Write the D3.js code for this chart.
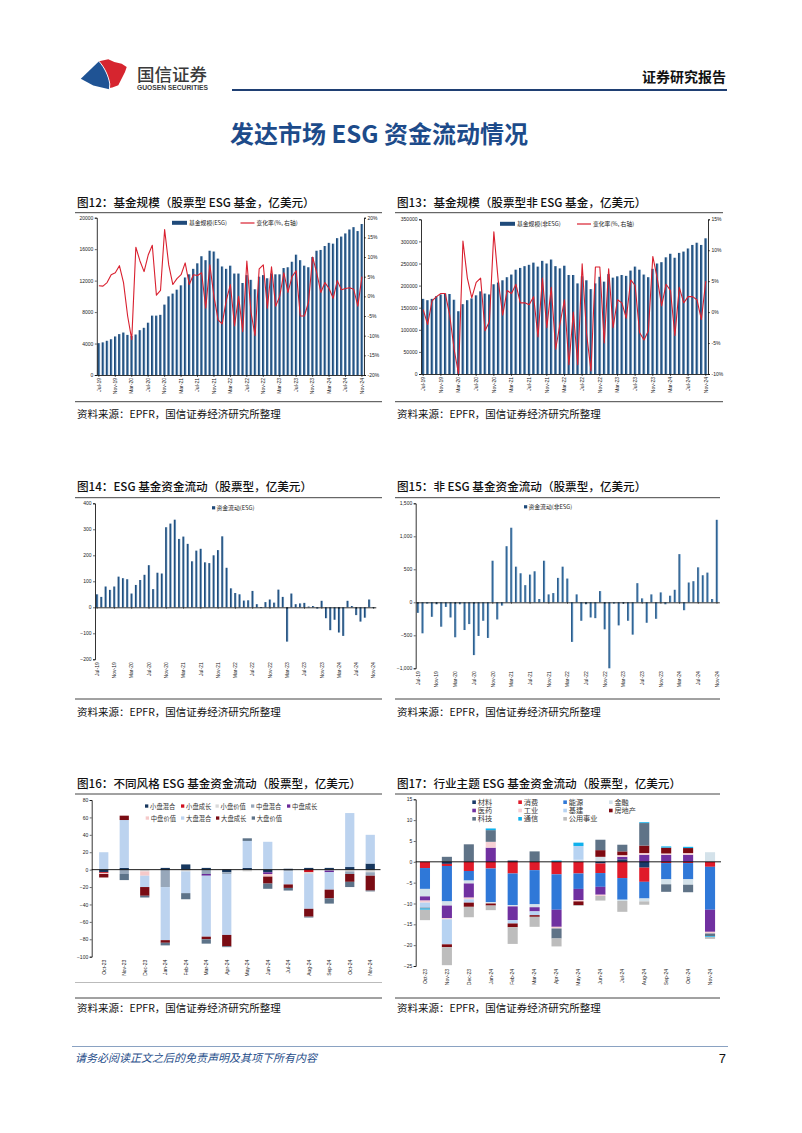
<!DOCTYPE html>
<html><head><meta charset="utf-8">
<script src="https://cdn.jsdelivr.net/npm/d3@7"></script>
<style>
body{margin:0;background:#fff;}
</style></head><body>
<svg id="page" width="802" height="1133" style="display:block;background:#fff"></svg>
<script>
// ---------------- DATA ----------------
const months = ("Jul-19 Aug-19 Sep-19 Oct-19 Nov-19 Dec-19 " +
 "Jan-20 Feb-20 Mar-20 Apr-20 May-20 Jun-20 Jul-20 Aug-20 Sep-20 Oct-20 Nov-20 Dec-20 " +
 "Jan-21 Feb-21 Mar-21 Apr-21 May-21 Jun-21 Jul-21 Aug-21 Sep-21 Oct-21 Nov-21 Dec-21 " +
 "Jan-22 Feb-22 Mar-22 Apr-22 May-22 Jun-22 Jul-22 Aug-22 Sep-22 Oct-22 Nov-22 Dec-22 " +
 "Jan-23 Feb-23 Mar-23 Apr-23 May-23 Jun-23 Jul-23 Aug-23 Sep-23 Oct-23 Nov-23 Dec-23 " +
 "Jan-24 Feb-24 Mar-24 Apr-24 May-24 Jun-24 Jul-24 Aug-24 Sep-24 Oct-24 Nov-24").split(" ");
const monthTicks = ["Jul-19","Nov-19","Mar-20","Jul-20","Nov-20","Mar-21","Jul-21","Nov-21","Mar-22","Jul-22","Nov-22","Mar-23","Jul-23","Nov-23","Mar-24","Jul-24","Nov-24"];

// Fig 12: ESG fund size (100m USD) and change rate (%)
const esgSize = [4050,4150,4350,4550,4900,5200,5400,5100,4950,5150,
 5700,6000,6650,7550,7550,7650,8950,10000,10350,10850,
 11400,12400,12800,13500,14200,15100,14600,15800,15700,14800,
 13800,13500,13900,12900,12900,11700,12700,12100,10900,12500,
 12700,12300,12900,12800,12800,13600,13700,14400,15300,14600,
 13900,13700,15000,15800,15900,16400,16800,16700,17400,17600,
 18000,18500,18800,18300,19200];
const esgChg = [2.7,2.6,3.5,5.5,6,7.8,3.5,-5,-11,12.5,
 9,6.3,10.5,13,0.3,1.5,17,8,3,4.5,
 5.5,8.5,3,5.5,5.3,6,-3,8,0,-6,
 -7,-1,3,-7.5,0,-9,9,-4,-10,7,
 8,-3,7.5,-2.5,0,6,1,5,6.5,-5,
 -5,-1.5,10,6,1,3.5,2,-0.5,4,1.7,
 2,2.2,1.8,-2.5,5];
const esgSizeTicks = [0,4000,8000,12000,16000,20000];
const esgChgTicks = [-20,-15,-10,-5,0,5,10,15,20];

// Fig 13: non-ESG fund size and change rate
const nonSize = [170000,167000,170000,176000,180000,182000,181000,168000,142000,158000,
 167000,171000,178000,187000,182000,180000,203000,207000,212000,219000,
 225000,236000,240000,244000,247000,252000,243000,256000,250000,259000,
 244000,239000,245000,224000,224000,205000,221000,212000,192000,205000,
 220000,209000,226000,218000,221000,224000,222000,234000,243000,236000,
 225000,219000,238000,250000,253000,264000,272000,263000,274000,277000,
 284000,292000,297000,292000,307000];
const nonChg = [0.4,-2,1.8,2.5,3,3,-0.5,-6,-10,11.5,
 5.5,2.3,4.8,5.5,-3,-1.5,13,5,-0.5,3.5,
 3,4.5,1.5,1.5,1.2,2.5,-4,5.5,-2.5,4,
 -6,-1.8,2,-8.5,0,-8.5,7.8,-3.5,-9.5,7.3,
 7.3,-5,7,-2.5,2,1.5,-1,5.2,4.3,-3.3,
 -4.5,-3,9,5.5,1,4.5,3.5,-3.8,4,1.5,
 2.5,2.5,2,-1.2,5];
const nonSizeTicks = [0,50000,100000,150000,200000,250000,300000,350000];
const nonChgTicks = [-10,-5,0,5,10,15];

// Fig 14: ESG fund flows
const esgFlow = [50,40,80,67,80,118,112,108,53,86,
 105,125,162,70,133,130,308,322,337,263,
 272,244,177,218,225,173,170,200,220,273,
 152,73,55,50,26,27,63,12,-3,20,
 30,18,68,40,-132,53,12,15,17,3,
 5,-5,25,-42,-88,-48,-97,-110,25,5,
 -30,-55,-40,30,-3];
const esgFlowTicks = [-200,-100,0,100,200,300,400];

// Fig 15: non-ESG fund flows
const nonFlow = [-160,-470,-20,-220,-30,-370,-70,-230,-530,-30,
 -420,-330,-800,-510,-280,-540,630,-260,-50,850,
 1130,540,440,260,420,470,50,630,120,140,
 370,540,360,-600,120,-280,-30,-230,-240,170,
 -410,-1000,-20,-350,-20,-280,-490,290,60,-310,
 120,-250,150,-30,100,190,730,-120,300,320,
 530,410,450,50,1250];
const nonFlowTicks = [-1000,-500,0,500,1000,1500];

// Fig 16: flows by style
const recentMonths = ["Oct-23","Nov-23","Dec-23","Jan-24","Feb-24","Mar-24","Apr-24","May-24","Jun-24","Jul-24","Aug-24","Sep-24","Oct-24","Nov-24"];
const styleNames = ["小盘混合","小盘成长","小盘价值","中盘混合","中盘成长","中盘价值","大盘混合","大盘成长","大盘价值"];
const smallBlend  = [-3,2,0,2,6,2,-3,2,-3,1,2,2,3,7];
const smallGrowth = [-1,0,0,0,0,0,0,0,0,0,-3,0,0,0];
const smallValue  = [0,0,-2,0,-2,0,0,-2,0,0,-2,-1,-2,-3];
const midBlend    = [0,-5,0,-20,0,-5,-2,0,0,-2,0,0,-3,-4];
const midGrowth   = [0,0,0,0,0,-2,0,0,-2,0,0,-2,0,0];
const midValue    = [-1,0,-5,0,0,0,0,0,-3,0,0,0,0,0];
const largeBlend  = [20,55,-13,-61,-25,-70,-70,31,32,-15,-40,-20,62,33];
const largeGrowth = [-4,5,-10,-3,0,-3,-13,0,-8,-4,-9,-10,-9,-17];
const largeValue  = [0,-7,-2,-3,-7,-5,-1,3,-6,-3,-1,-6,-6,-1];
const styleTicks = [-100,-80,-60,-40,-20,0,20,40,60,80];

// Fig 17: flows by sector theme
const sectorNames = ["材料","消费","能源","金融","医药","工业","基建","房地产","科技","通信","公用事业"];
const materials = [0,-0.5,0,0,0.3,0,0,0,-0.4,0.6,-1.4,0,0,0];
const consumer  = [-1.5,-0.5,-2.2,-1.6,-2.8,-2,-3,-2.8,-2.3,-3.9,-3.4,-0.3,-0.3,-1.2];
const energy    = [-5,-8.5,-2.3,-8.1,-7.6,-8.2,-8.5,-3.7,-3.3,-5.2,-4,-3.9,-3.9,-10.3];
const finance   = [-1.8,-1,-0.7,-0.3,-0.3,-0.7,0,0.5,1.2,-0.3,-0.7,-1.2,-1.3,2.3];
const health    = [-1,-3,-3.4,3.4,-3.3,-1,-4.1,-2.7,-1.9,0.6,1.7,1.7,1.7,-5.3];
const industry  = [-0.5,-0.3,-0.4,1.4,0,0,-0.4,-0.3,-0.3,0.4,0.4,0.3,0.4,-0.4];
const infra     = [-1.2,-6,-0.8,0,-0.8,-0.9,0,3.3,0,0,0,0,0,0];
const realty    = [0,-0.7,-1,-0.5,-0.9,-0.4,0,-0.9,1.6,0.9,1.8,1.4,1.2,0];
const tech      = [-0.2,1.2,4.2,2.8,0,2.5,-2.4,0,2.5,1.6,5.4,-1.8,-1.8,-0.6];
const telecom   = [-0.3,0,0,0.4,0,0,0.3,0.8,0,0,0.2,0.3,0.3,-0.2];
const utilities = [-2.5,-4.3,-2.5,-1.1,-4,-2.4,-1.9,-0.2,-1.1,-2.6,-0.8,0,0,-0.5];
const sectorTicks = [-25,-20,-15,-10,-5,0,5,10,15];

// ---------------- DRAWING ----------------
const CJK = '"Noto Sans CJK SC","Noto Sans",sans-serif';
const LAT = '"Liberation Sans",Arial,sans-serif';
const svg = d3.select("#page");
const defs = svg.append("defs");
function grad(id, stops){
  const g = defs.append("linearGradient").attr("id",id).attr("x1","0").attr("x2","1").attr("y1","0").attr("y2","0");
  stops.forEach(s=>g.append("stop").attr("offset",s[0]).attr("stop-color",s[1]));
}
grad("barA",[[0,"#17406f"],[0.5,"#285988"],[1,"#9dbfdf"]]);
grad("barB",[[0,"#21507f"],[0.5,"#3a6f9f"],[1,"#a3c4e2"]]);

function txt(g,x,y,s,o={}){
  return g.append("text").attr("x",x).attr("y",y).text(s)
    .attr("font-family",o.ff||CJK).attr("font-size",o.fs||11)
    .attr("font-weight",o.fw||"normal").attr("fill",o.fill||"#111")
    .attr("text-anchor",o.anchor||"start").attr("font-style",o.style||"normal");
}
function hline(x1,x2,y,color,w){
  svg.append("line").attr("x1",x1).attr("x2",x2).attr("y1",y).attr("y2",y)
    .attr("stroke",color).attr("stroke-width",w);
}
function styleAxis(g){
  g.selectAll("text").attr("font-size",5).attr("font-family",LAT).attr("fill","#222");
  g.selectAll("path.domain").attr("stroke","#000").attr("stroke-width",0.8);
  g.selectAll(".tick line").attr("stroke","#000").attr("stroke-width",0.6);
}
function rotLabels(g){
  g.selectAll(".tick text").attr("transform","rotate(-90)").attr("text-anchor","end")
    .attr("x",-3).attr("y",0).attr("dy","0.35em");
}

// ---- header ----
const logo = svg.append("g");
logo.append("path").attr("d","M99,61.3 L108.3,59.3 L114.3,62 L121.7,63.7 L126.7,67 L125,72 L118.3,85.3 L112.3,87.5 L109.6,88 L109.8,84 C108.6,76 104.5,67.5 99,61.3 Z")
  .attr("fill","#d6252f");
logo.append("path").attr("d","M80.8,78.7 L99,61.3 C104.5,67.5 108.6,76 109.8,84 L109.2,89.2 L93.3,85.6 Z")
  .attr("fill","#1f5394");
logo.append("path").attr("d","M99,61.3 C104.5,67.5 108.6,76 109.8,84 L109.4,89").attr("fill","none").attr("stroke","#fff").attr("stroke-width",0.9);
txt(svg,137,80.5,"国信证券",{fs:17.5,fill:"#3a3a3a",fw:500});
txt(svg,137,89.8,"GUOSEN SECURITIES",{fs:6.4,ff:LAT,fw:"bold",fill:"#3a3a3a"}).attr("textLength",71).attr("lengthAdjust","spacingAndGlyphs");
txt(svg,726,82,"证券研究报告",{fs:14,fw:"bold",anchor:"end",fill:"#111"});
hline(232,727,90,"#1f3f73",2);
txt(svg,379,143,"发达市场 ESG 资金流动情况",{fs:24,fw:"bold",anchor:"middle",fill:"#1d4b8a"});

// ---- chart frames ----
function frame(x1,x2,title,yTitle,yTop,yBot,ySrc){
  txt(svg,x1+2,yTitle,title,{fs:11.6,fw:500,fill:"#111"});
  hline(x1,x2,yTop,"#444",1);
  hline(x1,x2,yBot,"#444",1);
  txt(svg,x1+2,ySrc,"资料来源：EPFR，国信证券经济研究所整理",{fs:10.5,fill:"#111"});
}
frame(75,382,"图12：基金规模（股票型 ESG 基金，亿美元）",207,212.7,401.7,418);
frame(395,723,"图13：基金规模（股票型非 ESG 基金，亿美元）",207,212.7,401.7,418);
frame(75,382,"图14：ESG 基金资金流动（股票型，亿美元）",491,497.7,699,715.5);
frame(395,720,"图15：非 ESG 基金资金流动（股票型，亿美元）",491,497.7,699,715.5);
frame(75,382,"图16：不同风格 ESG 基金资金流动（股票型，亿美元）",787.5,794,998,1011.5);
frame(395,720,"图17：行业主题 ESG 基金资金流动（股票型，亿美元）",787.5,794,998,1011.5);
hline(75,382,982.5,"#aaa",0.8);

// ---- dual (bar + line) chart ----
function dualChart(o){
  const g = svg.append("g");
  const x = d3.scaleBand().domain(months).range([o.x0,o.x1]).paddingInner(o.pad).paddingOuter(o.pad/2);
  const yL = d3.scaleLinear().domain(o.yL).range([o.yb,o.yt]);
  const yR = d3.scaleLinear().domain(o.yR).range([o.yb,o.yt]);
  g.selectAll("rect").data(o.bars).join("rect")
    .attr("x",(d,i)=>x(months[i])).attr("width",x.bandwidth())
    .attr("y",d=>yL(d)).attr("height",d=>yL(o.yL[0])-yL(d)).attr("fill","url(#barA)");
  const line = d3.line().x((d,i)=>x(months[i])+x.bandwidth()/2).y(d=>yR(d));
  g.append("path").datum(o.line).attr("d",line).attr("fill","none")
    .attr("stroke","#d9202f").attr("stroke-width",1.1).attr("stroke-linejoin","round");
  const al = g.append("g").attr("transform",`translate(${o.x0},0)`)
    .call(d3.axisLeft(yL).tickValues(o.yLTicks).tickSize(2).tickPadding(1.5).tickFormat(d3.format("d")));
  styleAxis(al);
  const ar = g.append("g").attr("transform",`translate(${o.x1},0)`)
    .call(d3.axisRight(yR).tickValues(o.yRTicks).tickSize(2).tickPadding(1.5).tickFormat(d=>d+"%"));
  styleAxis(ar);
  const ab = g.append("g").attr("transform",`translate(0,${o.yb})`)
    .call(d3.axisBottom(x).tickValues(monthTicks).tickSize(2).tickSizeOuter(0));
  styleAxis(ab); rotLabels(ab);
  // legend
  g.append("rect").attr("x",o.lx).attr("y",o.ly-2.2).attr("width",15).attr("height",4).attr("fill","#1f4a7a");
  txt(g,o.lx+17,o.ly+2,o.lt1,{fs:5.8,fill:"#222"});
  g.append("line").attr("x1",o.lx2).attr("x2",o.lx2+14).attr("y1",o.ly).attr("y2",o.ly).attr("stroke","#d9202f").attr("stroke-width",1.2);
  txt(g,o.lx2+16,o.ly+2,"变化率(%, 右轴)",{fs:5.8,fill:"#222"});
}
dualChart({x0:96.8,x1:364,yt:217.7,yb:375,pad:0.37,yL:[0,20000],yR:[-20,20],
  yLTicks:esgSizeTicks,yRTicks:esgChgTicks,bars:esgSize,line:esgChg,
  lx:172,lx2:240.5,ly:223,lt1:"基金规模(ESG)"});
dualChart({x0:421,x1:708,yt:219.3,yb:374,pad:0.39,yL:[0,350000],yR:[-10,15],
  yLTicks:nonSizeTicks,yRTicks:nonChgTicks,bars:nonSize,line:nonChg,
  lx:500,lx2:577,ly:224,lt1:"基金规模(非ESG)"});

// ---- flow chart ----
function flowChart(o){
  const g = svg.append("g");
  const x = d3.scaleBand().domain(months).range([o.x0,o.x1]).paddingInner(o.pad).paddingOuter(o.pad/2);
  const y = d3.scaleLinear().domain(o.yd).range([o.yb,o.yt]);
  g.selectAll("rect").data(o.vals).join("rect")
    .attr("x",(d,i)=>x(months[i])).attr("width",x.bandwidth())
    .attr("y",d=>y(Math.max(0,d))).attr("height",d=>Math.abs(y(d)-y(0))).attr("fill",o.fill);
  const al = g.append("g").attr("transform",`translate(${o.x0},0)`)
    .call(d3.axisLeft(y).tickValues(o.ticks).tickSize(2).tickPadding(1.5));
  styleAxis(al);
  const az = g.append("g").attr("transform",`translate(0,${y(0)})`)
    .call(d3.axisBottom(x).tickValues(monthTicks).tickSize(1.5).tickSizeOuter(0).tickFormat(""));
  styleAxis(az);
  const ab = g.append("g").attr("transform",`translate(0,${o.yb})`)
    .call(d3.axisBottom(x).tickValues(monthTicks).tickSize(0));
  ab.select("path.domain").remove();
  styleAxis(ab); rotLabels(ab);
  g.append("rect").attr("x",o.lx).attr("y",o.ly-1.8).attr("width",3.2).attr("height",3.2).attr("fill","#1f4a7a");
  txt(g,o.lx+4.5,o.ly+2,o.lt,{fs:5.8,fill:"#222"});
}
flowChart({x0:95,x1:375.8,yt:503.3,yb:659.3,pad:0.47,yd:[-200,400],ticks:esgFlowTicks,
  vals:esgFlow,fill:"url(#barA)",lx:212,ly:508,lt:"资金流动(ESG)"});
flowChart({x0:415.7,x1:719.3,yt:503.3,yb:668.3,pad:0.5,yd:[-1000,1500],ticks:nonFlowTicks,
  vals:nonFlow,fill:"url(#barB)",lx:524,ly:507,lt:"资金流动(非ESG)"});

// ---- stacked chart ----
function stackChart(o){
  const g = svg.append("g");
  const rows = recentMonths.map((m,i)=>{const r={m}; o.names.forEach((n,k)=>r[n]=o.series[k][i]); return r;});
  const st = d3.stack().keys(o.names).offset(d3.stackOffsetDiverging)(rows);
  const x = d3.scaleBand().domain(recentMonths).range([o.x0,o.x1]).paddingInner(o.pad).paddingOuter(o.pad/2);
  const y = d3.scaleLinear().domain(o.yd).range([o.yb,o.yt]);
  st.forEach((s,k)=>{
    g.append("g").selectAll("rect").data(s).join("rect")
      .attr("x",d=>x(d.data.m)).attr("width",x.bandwidth())
      .attr("y",d=>y(Math.max(d[0],d[1]))).attr("height",d=>Math.abs(y(d[0])-y(d[1])))
      .attr("fill",o.colors[k]);
  });
  const al = g.append("g").attr("transform",`translate(${o.x0a},0)`)
    .call(d3.axisLeft(y).tickValues(o.ticks).tickSize(2).tickPadding(1.5));
  styleAxis(al);
  g.append("line").attr("x1",o.x0a).attr("x2",o.x1).attr("y1",y(0)).attr("y2",y(0))
    .attr("stroke","#000").attr("stroke-width",0.9);
  const ab = g.append("g").attr("transform",`translate(0,${o.yb})`)
    .call(d3.axisBottom(x).tickSize(0));
  ab.select("path.domain").remove();
  styleAxis(ab); rotLabels(ab);
  o.names.forEach((n,k)=>{
    const p = o.legendPos[k];
    g.append("rect").attr("x",p[0]).attr("y",p[1]-2.6).attr("width",o.sw).attr("height",o.sw).attr("fill",o.colors[k]);
    txt(g,p[0]+o.sw+1.8,p[1]+1.6,n,{fs:o.lfs,fill:"#333"});
  });
}
stackChart({x0:93.5,x0a:91.7,x1:380.5,yt:800,yb:956.7,pad:0.55,yd:[-100,80],ticks:styleTicks,
  names:styleNames,
  series:[smallBlend,smallGrowth,smallValue,midBlend,midGrowth,midValue,largeBlend,largeGrowth,largeValue],
  colors:["#17375e","#d0101e","#d9d9d9","#97a7ba","#6a2a9a","#f5c9c9","#bcd3ef","#7a0c14","#5d7389"],
  legendPos:[[145,807],[181,807],[215.5,807],[251,807],[287,807],[145.7,819],[181,819],[216,819],[251.7,819]],
  sw:3.3,lfs:6.3});
stackChart({x0:414,x0a:415.7,x1:721,yt:799.3,yb:966,pad:0.54,yd:[-25,15],ticks:sectorTicks,
  names:sectorNames,
  series:[materials,consumer,energy,finance,health,industry,infra,realty,tech,telecom,utilities],
  colors:["#1a3a6a","#e01b2a","#2f78d8","#d4e2ea","#7030a0","#f6d0d4","#b7d3f2","#7e0a12","#5f7387","#0fb0ec","#bdbdbd"],
  legendPos:[[472.3,803],[518.3,803],[563.3,803],[609,803],[472.3,811.3],[518.3,811.3],[563.3,811.3],[609,811.3],[472.3,819.6],[518.3,819.6],[563.3,819.6]],
  sw:3.6,lfs:7.2});

// ---- footer ----
hline(72,728,1046.5,"#8aa2c2",1);
txt(svg,75,1062,"请务必阅读正文之后的免责声明及其项下所有内容",{fs:11,style:"italic",fill:"#1f4e8a"});
txt(svg,726,1063,"7",{fs:13,ff:LAT,anchor:"end",fill:"#111"});
</script>
</body></html>
